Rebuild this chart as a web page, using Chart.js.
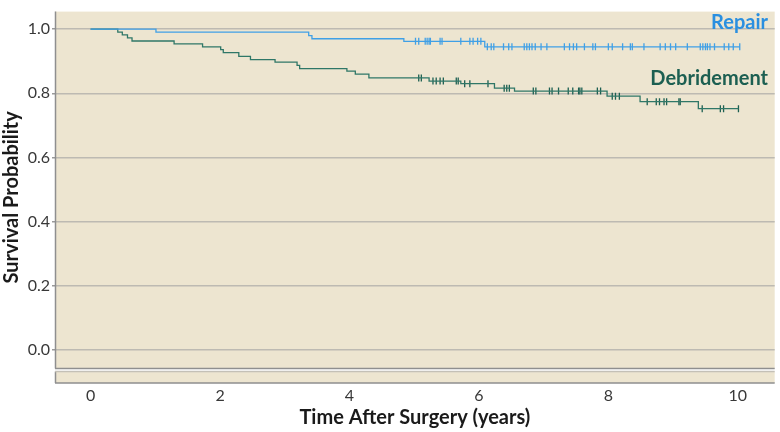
<!DOCTYPE html>
<html>
<head>
<meta charset="utf-8">
<script src="https://cdn.jsdelivr.net/npm/chart.js@4/dist/chart.umd.min.js"></script>
<style>
  html, body { margin: 0; padding: 0; background: #ffffff; }
  #wrap { width: 780px; height: 432px; }
</style>
</head>
<body>
<div id="wrap"><canvas id="km"></canvas></div>
<script>
// Kaplan-Meier steps
var repairTimes = [0, 1.01, 3.37, 3.42, 4.84, 6.09, 10.03];
var repairSurv  = [1.0, 0.991, 0.980, 0.970, 0.962, 0.945, 0.945];

var debrTimes = [0, 0.42, 0.49, 0.57, 0.64, 1.29, 1.73, 2.01, 2.05, 2.29, 2.47, 2.85, 3.19, 3.23,
                 3.96, 4.09, 4.30, 5.23, 5.72, 6.24, 6.55, 7.98, 8.49, 9.39, 10.01];
var debrSurv  = [1.0, 0.991, 0.982, 0.973, 0.963, 0.954, 0.945, 0.936, 0.927, 0.915, 0.905, 0.897, 0.887, 0.877,
                 0.869, 0.860, 0.848, 0.838, 0.830, 0.816, 0.807, 0.791, 0.774, 0.752, 0.752];

// censored cases
var repairCensor = [5.02, 5.07, 5.17, 5.20, 5.23, 5.25, 5.40, 5.43, 5.72, 5.86, 5.91, 5.98, 6.03,
                    6.13, 6.19, 6.23, 6.38, 6.46, 6.51, 6.70, 6.74, 6.78, 6.82, 6.87, 6.96, 7.05,
                    7.32, 7.40, 7.46, 7.51, 7.63, 7.76, 7.80, 8.00, 8.06, 8.22, 8.34, 8.37, 8.55,
                    8.80, 8.88, 8.96, 9.04, 9.22, 9.42, 9.46, 9.50, 9.53, 9.57, 9.64, 9.79, 9.86,
                    9.93, 10.03];
var debrCensor = [5.07, 5.11, 5.29, 5.34, 5.40, 5.45, 5.65, 5.68, 5.78, 5.86, 6.14, 6.39, 6.43, 6.47,
                  6.84, 6.88, 7.09, 7.13, 7.23, 7.38, 7.45, 7.54, 7.56, 7.59, 7.83, 7.88, 8.06, 8.11,
                  8.17, 8.60, 8.74, 8.79, 8.86, 8.90, 9.09, 9.11, 9.45, 9.73, 9.78, 10.01];

var xTicks = [0, 2, 4, 6, 8, 10];
var yTicks = [0, 0.2, 0.4, 0.6, 0.8, 1.0];
var groupNames = ['Repair', 'Debridement'];

var blue = '#40a0e6';
var teal = '#2f7767';
var tealDark = '#1c5f51';
var beige = '#ede5d0';
var fontName = 'Lato, "Open Sans", sans-serif';

function pts(ts, ss) {
    return ts.map(function (t, i) { return { x: t, y: ss[i] }; });
}
function survAt(ts, ss, t) {
    var v = ss[0];
    for (var i = 0; i < ts.length; i++) { if (ts[i] <= t) v = ss[i]; }
    return v;
}
function censorPts(cs, ts, ss) {
    return cs.map(function (t) { return { x: t, y: survAt(ts, ss, t) }; });
}

// background, broken axis and group labels
var decor = {
    id: 'decor',
    beforeDraw: function (chart) {
        var c = chart.ctx, a = chart.chartArea;
        var yb = Math.round(chart.scales.y.getPixelForValue(-0.058)) + 0.5;
        c.save();
        c.fillStyle = beige;
        c.fillRect(a.left, a.top, a.right - a.left, yb - a.top);
        c.fillRect(a.left, yb + 3, a.right - a.left, a.bottom - yb - 3);
        c.restore();
    },
    afterDraw: function (chart) {
        var c = chart.ctx, a = chart.chartArea;
        var yb = Math.round(chart.scales.y.getPixelForValue(-0.058)) + 0.5;
        c.save();
        c.lineWidth = 1.5;
        c.strokeStyle = '#8f8f8f';
        c.beginPath();
        c.moveTo(a.left, yb); c.lineTo(a.right, yb);
        c.moveTo(a.left, a.bottom); c.lineTo(a.right, a.bottom);
        c.moveTo(a.left + 0.5, a.top); c.lineTo(a.left + 0.5, yb);
        c.moveTo(a.left + 0.5, yb + 3); c.lineTo(a.left + 0.5, a.bottom);
        c.stroke();
        c.strokeStyle = '#c4c0b6';
        c.beginPath();
        c.moveTo(a.left, yb + 3); c.lineTo(a.right, yb + 3);
        c.stroke();

        c.font = 'bold 20px ' + fontName;
        c.textAlign = 'right';
        c.textBaseline = 'alphabetic';
        c.fillStyle = '#2a8fe0';
        c.fillText(groupNames[0], 768, 29);
        c.fillStyle = tealDark;
        c.fillText(groupNames[1], 768, 85);
        c.restore();
    }
};

var ctx = document.getElementById('km').getContext('2d');
var chart = new Chart(ctx, {
    type: 'line',
    data: {
        datasets: [{
            label: groupNames[0],
            data: pts(repairTimes, repairSurv),
            borderColor: blue,
            borderWidth: 1.3,
            stepped: 'before',
            pointRadius: 0,
            fill: false
        }, {
            label: groupNames[1],
            data: pts(debrTimes, debrSurv),
            borderColor: teal,
            borderWidth: 1.3,
            stepped: 'before',
            pointRadius: 0,
            fill: false
        }, {
            type: 'scatter',
            label: groupNames[0] + ' censored',
            data: censorPts(repairCensor, repairTimes, repairSurv),
            pointStyle: 'line',
            rotation: 90,
            pointRadius: 3.5,
            borderColor: blue,
            pointBorderWidth: 1.3,
            showLine: false
        }, {
            type: 'scatter',
            label: groupNames[1] + ' censored',
            data: censorPts(debrCensor, debrTimes, debrSurv),
            pointStyle: 'line',
            rotation: 90,
            pointRadius: 3.5,
            borderColor: tealDark,
            pointBorderWidth: 1.3,
            showLine: false
        }]
    },
    options: {
        responsive: true,
        maintainAspectRatio: false,
        animation: false,
        layout: { padding: { top: 2, right: 3, left: 0, bottom: 0 } },
        plugins: {
            legend: { display: false },
            tooltip: { enabled: false }
        },
        scales: {
            x: {
                type: 'linear',
                min: -0.55,
                max: 10.57,
                afterBuildTicks: function (axis) { axis.ticks = xTicks.map(function (v) { return { value: v }; }); },
                afterFit: function (axis) { axis.height = 49; },
                grid: { display: false, drawTicks: false },
                border: { display: false },
                ticks: {
                    padding: 3,
                    color: '#383838',
                    font: { family: fontName, size: 16 },
                    callback: function (v) { return String(v); }
                },
                title: {
                    display: true,
                    text: 'Time After Surgery (years)',
                    color: '#1a1a1a',
                    font: { family: fontName, size: 20, weight: 'bold' },
                    padding: { top: 0, bottom: 2 }
                }
            },
            y: {
                type: 'linear',
                min: -0.1033,
                max: 1.0547,
                afterBuildTicks: function (axis) { axis.ticks = yTicks.map(function (v) { return { value: v }; }); },
                afterFit: function (axis) { axis.width = 55; },
                grid: {
                    color: '#bdbab2',
                    lineWidth: 1.5,
                    drawTicks: true,
                    tickLength: 3,
                    tickColor: '#9a9a9a'
                },
                border: { display: false },
                ticks: {
                    padding: 2,
                    color: '#383838',
                    font: { family: fontName, size: 16 },
                    callback: function (v) { return v.toFixed(1); }
                },
                title: {
                    display: true,
                    text: 'Survival Probability',
                    color: '#1a1a1a',
                    font: { family: fontName, size: 20, weight: 'bold' },
                    padding: { top: 0, bottom: 0 }
                }
            }
        }
    },
    plugins: [decor]
});
</script>
</body>
</html>
